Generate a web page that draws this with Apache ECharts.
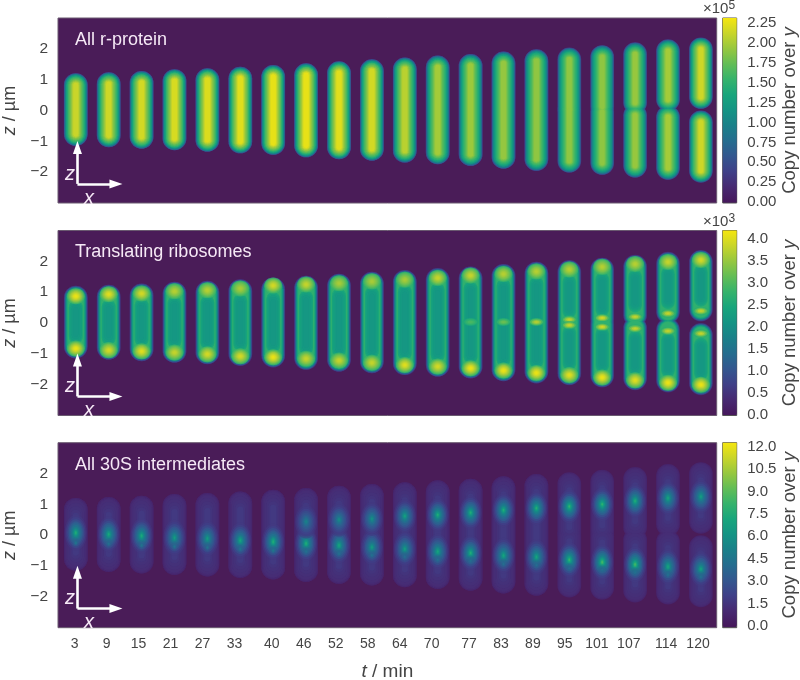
<!DOCTYPE html>
<html><head><meta charset="utf-8">
<style>html,body{margin:0;padding:0;background:#fff}#c{width:800px;height:680px}</style>
<script src="https://cdn.jsdelivr.net/npm/echarts@6/dist/echarts.min.js"></script>
</head><body><div id="c"></div>
<script>
const timeLabels = [3,9,15,21,27,33,40,46,52,58,64,70,77,83,89,95,101,107,114,120];
const zTicks = [-2,-1,0,1,2];
const rProteinTicks = ['0.00','0.25','0.50','0.75','1.00','1.25','1.50','1.75','2.00','2.25'];
const ribosomeTicks = ['0.0','0.5','1.0','1.5','2.0','2.5','3.0','3.5','4.0'];
const intermediateTicks = ['0.0','1.5','3.0','4.5','6.0','7.5','9.0','10.5','12.0'];

// cell outline per time point (um)
const cellTop = [1.21,1.24,1.28,1.34,1.37,1.42,1.476,1.53,1.60,1.66,1.72,1.78,1.83,1.91,1.985,2.04,2.12,2.21,2.31,2.37];
const cellBottom = [-1.15,-1.19,-1.24,-1.29,-1.34,-1.39,-1.44,-1.52,-1.58,-1.63,-1.69,-1.745,-1.80,-1.89,-1.96,-2.02,-2.09,-2.18,-2.25,-2.34];
// z at which the upper daughter ends / the lower daughter starts, from t = 95 on
const upperEnd = [-0.33,-0.27,-0.13,-0.03,0.05];
const lowerStart = [0.39,0.35,0.23,0.17,0];
const cellHalfWidth = 0.385;

// r-protein: axial peak per cell (x 1e5) and radial profile
const rProteinPeak = [2.12,2.14,2.16,2.18,2.2,2.22,2.25,2.25,2.22,2.16,2.06,1.98,1.95,1.92,1.9,1.9,1.9,1.93,1.98,2.14];
const rProteinProfile = [[0,.2],[.04,.3],[.08,.4],[.12,.48],[.17,.56],[.22,.62],[.28,.68],[.34,.73],[.4,.77],[.48,.82],[.56,.86],[.64,.91],[.72,.96],[.8,1]];

// translating ribosomes (x 1e3): rim, core and polar / septal hot spots
const ribosomeRim = [[0,.45],[.04,.75],[.08,1.1],[.12,1.45],[.16,1.8],[.2,2.1],[.25,2.4],[.3,2.6],[.36,2.72]];
const ribosomeCore = [[.42,.32,2.5],[.48,.34,2.38],[.56,.36,2.28],[.66,.38,2.2],[.8,.4,2.15]];
const poleTopZ = [.87,.93,.955,1.03,1.06,1.12,1.216,1.25,1.29,1.35,1.40,1.46,1.54,1.59,1.67,1.735,1.82,1.91,1.98,2.04];
const poleBottomZ = [-.83,-.88,-.915,-.96,-1.01,-1.08,-1.11,-1.16,-1.22,-1.29,-1.36,-1.41,-1.47,-1.54,-1.62,-1.69,-1.77,-1.855,-1.94,-2.0];
const poleTopPeak = [4.1,4.0,3.9,3.7,3.7,3.6,3.9,3.8,3.6,3.6,3.6,3.8,3.8,3.7,3.7,3.7,3.7,3.7,3.8,3.9];
const poleBottomPeak = [4.1,3.9,4.0,3.8,3.9,3.9,4.1,3.8,3.8,3.8,4.0,3.9,4.1,4.1,4.1,4.0,4.1,4.0,4.1,4.1];
const septumIndex = [12,13,14,15,15,16,16,17,17,18,18,19,19];
const septumZ = [.03,.03,.03,.11,-.07,.165,-.126,.2,-.18,.31,-.26,.39,-.34];
const septumPeak = [2.95,3.2,3.7,3.8,3.8,3.9,3.9,3.8,3.8,3.8,3.8,3.8,3.8];

// 30S intermediates: body levels and foci
const intermediateBody = [[0,0,.75],[.06,0,.9],[.12,0,1.05],[.2,0,1.15],[.3,.05,1.25],[.45,.1,1.35],[.6,.15,1.5],[.75,.2,1.7]];
const focusUpperIndex = [7,8,9,10,11,12,13,14,15,16,17,18,19];
const focusUpperZ = [.44,.5,.53,.62,.66,.73,.81,.875,.93,1.0,1.11,1.2,1.25];
const focusUpperPeak = [5.2,5.6,6,6.8,7.5,7.5,7.5,7.6,8,8,7.5,7,6.6];
const focusMainZ = [.08,.03,-.02,-.08,-.11,-.17,-.21,-.27,-.33,-.39,-.45,-.53,-.58,-.66,-.71,-.8,-.875,-.95,-1.02,-1.1];
const focusMainPeak = [7.5,7.2,7.3,6.5,6.5,7,7.5,7.5,7,6.5,6.5,7,7.5,7,7,8,8.5,8.5,7,6.8];
const focusSatelliteZ = [-.25,-.28,-.33,-.37,-.4,-.45,-.5,-.53,-.6,-.65,-.7,-.8,-.83,-.93,-.97,-1.07,-1.12,-1.2,-1.28,-1.35];
const focusSatellitePeak = [4.6,4.4,4.6,4.6,4.5,4.6,4.7,4.4,4.4,4.4,4.2,4.2,4.3,4.2,4.2,4.2,4.2,4.4,4.4,4.4];

const palette = ['#46185c','#472a72','#3f4088','#33578f','#256d8f','#1a8089','#149484','#18a57c','#35b36c','#62bd56','#96c73f','#c8d52a','#f5e60f'];
const colorAt = (v, max) => echarts.color.lerp(Math.max(0, Math.min(1, v / max)), palette);

const panels = [
  {top: 18,  max: 2.31, min: -0.01, ticks: rProteinTicks, title: 'All r-protein', exp: '5'},
  {top: 230.5, max: 4.19, min: -0.02, ticks: ribosomeTicks, title: 'Translating ribosomes', exp: '3'},
  {top: 442.7, max: 12.27, min: -0.13, ticks: intermediateTicks, title: 'All 30S intermediates', exp: null}
];
const H = 185, L = 58, W = 658.7, textColor = '#444';
const fontFamily = '"Liberation Sans", Arial, sans-serif';

function capsule(api, idx, zHi, zLo, inset, endExtra, color) {
  const c0 = api.coord([idx, zHi]), c1 = api.coord([idx, zLo]);
  const unit = api.size([1, 1])[1];
  const R = cellHalfWidth * unit, hw = R * (1 - inset), off = R * inset + endExtra * unit;
  const y0 = c0[1] + off, y1 = c1[1] - off;
  if (y1 - y0 <= 0) return null;
  return {type: 'rect', shape: {x: c0[0] - hw, y: y0, width: 2 * hw, height: y1 - y0, r: hw},
          style: {fill: color}};
}
const cellRows = (peak) => timeLabels.map((t, i) => {
  const d = i - 15;
  return [i, cellTop[i], cellBottom[i], d >= 0 ? upperEnd[d] : cellBottom[i], d >= 0 ? lowerStart[d] : cellTop[i], peak ? peak[i] : 0];
});
function levelsRender(levels, max) {
  return (params, api) => {
    const i = api.value(0), top = api.value(1), bot = api.value(2), ue = api.value(3), ls = api.value(4), peak = api.value(5);
    const children = [];
    levels.forEach(lv => {
      const value = peak ? lv[2] * peak : lv[2];
      [[top, ue], [ls, bot]].forEach(p => {
        const s = capsule(api, i, p[0], p[1], lv[0], lv[1], colorAt(value, max));
        if (s) children.push(s);
      });
    });
    return {type: 'group', children};
  };
}
function blobRender(scales, max, base) {
  return (params, api) => {
    const p = api.coord([api.value(0), api.value(1)]);
    const unit = api.size([1, 1])[1];
    const peak = api.value(2), rx = api.value(3) * unit, rz = api.value(4) * unit;
    return {type: 'group', children: scales.map(s => ({
      type: 'ellipse',
      shape: {cx: p[0], cy: p[1], rx: rx * s[0], ry: rz * s[0]},
      style: {fill: colorAt(base + (peak - base) * s[1], max), opacity: s[2]}
    }))};
  };
}
const customBase = (g) => ({type: 'custom', xAxisIndex: g, yAxisIndex: g, coordinateSystem: 'cartesian2d', animation: false, silent: true, clip: true});

const poleScales = [[1,.15,.8],[.88,.3,.9],[.76,.45,1],[.64,.6,1],[.52,.72,1],[.4,.84,1],[.28,.94,1],[.16,1,1]];
const septumScales = [[1,.2,.7],[.8,.45,1],[.6,.7,1],[.4,.9,1],[.2,1,1]];
const focusScales = [[1,.06,.5],[.88,.12,.7],[.76,.2,.9],[.64,.3,1],[.54,.38,1],[.44,.47,1],[.35,.56,1],[.27,.66,1],[.2,.76,1],[.13,.88,1],[.07,1,1]];
const satelliteScales = [[1,.1,.22],[.7,.4,.35],[.4,.8,.55],[.2,1,.8]];

const poleRows = [];
timeLabels.forEach((t, i) => {
  poleRows.push([i, poleTopZ[i], poleTopPeak[i], .29, .26]);
  poleRows.push([i, poleBottomZ[i], poleBottomPeak[i], .29, .26]);
});
const septumRows = septumIndex.map((x, k) => [x, septumZ[k], septumPeak[k], .26, .13]);
const satelliteRows = focusSatelliteZ.map((z, i) => [i, z, focusSatellitePeak[i], .14, .17]);
const focusRows = focusMainZ.map((z, i) => [i, z, focusMainPeak[i], .36, .58]);
focusUpperIndex.forEach((x, k) => focusRows.push([x, focusUpperZ[k], focusUpperPeak[k], .36, .55]));

const arrowSeries = (g) => ({
  type: 'line', xAxisIndex: g, yAxisIndex: g, data: [], silent: true, animation: false,
  markLine: {silent: true, animation: false, symbol: ['none', 'triangle'], symbolSize: [9, 13], label: {show: false},
    lineStyle: {color: '#fff', width: 2.6, type: 'solid'}, emphasis: {disabled: true},
    data: [
      [{coord: [.05, -2.38]}, {coord: [.05, -1.2]}],
      [{coord: [.05, -2.38]}, {coord: [1.22, -2.38]}]
    ]}
});

const grid = [], xAxis = [], yAxis = [], title = [], series = [];
const labelStyle = {color: '#f6e9f6', fontWeight: 'normal', fontFamily};
panels.forEach((p, g) => {
  grid.push({left: L, top: p.top, width: W, height: H, show: true, backgroundColor: '#4a1c58', borderColor: '#6a5a70', borderWidth: 1, outerBoundsMode: 'none'});
  xAxis.push({gridIndex: g, type: 'value', min: -0.541, max: 19.48, show: false});
  yAxis.push({gridIndex: g, type: 'value', min: -3, max: 3, interval: 1, position: 'left',
    axisLine: {show: false}, axisTick: {show: false}, splitLine: {show: false},
    axisLabel: {customValues: zTicks, color: textColor, fontSize: 15.5, fontFamily, margin: 10,
      formatter: v => String(v).replace('-', '\u2212')},
    name: '{i|z}{n| / \u00b5m}', nameLocation: 'middle', nameGap: 33, nameRotate: 90,
    nameTextStyle: {rich: {i: {fontStyle: 'italic', fontSize: 18, color: textColor, fontFamily},
                           n: {fontSize: 18, color: textColor, fontFamily}}}});
  title.push({text: p.title, left: 75, top: p.top + 13, padding: 0, textStyle: Object.assign({fontSize: 18}, labelStyle)});
  title.push({text: 'z', left: 65, top: p.top + 146, padding: 0, textStyle: Object.assign({fontSize: 20, fontStyle: 'italic'}, labelStyle)});
  title.push({text: 'x', left: 84, top: p.top + 170, padding: 0, textStyle: Object.assign({fontSize: 20, fontStyle: 'italic'}, labelStyle)});
  if (p.exp) title.push({text: '{a|\u00d710}{b|' + p.exp + '}', left: 703, top: p.top - 18, padding: 0,
    textStyle: {fontWeight: 'normal', rich: {a: {fontSize: 15, fontWeight: 'normal', color: textColor, fontFamily, lineHeight: 18},
                       b: {fontSize: 12, fontWeight: 'normal', color: textColor, fontFamily, verticalAlign: 'top', lineHeight: 18}}}});
});
// colour bars
panels.forEach((p, k) => {
  const g = k + 3;
  grid.push({left: 722.7, top: p.top, width: 14, height: H, show: true, backgroundColor: palette[0], borderColor: '#555', borderWidth: 1, outerBoundsMode: 'none'});
  xAxis.push({gridIndex: g, type: 'category', data: ['bar'], show: false});
  yAxis.push({gridIndex: g, type: 'value', min: p.min, max: p.max, position: 'right',
    axisLine: {show: false}, axisTick: {show: false}, splitLine: {show: false},
    axisLabel: {customValues: p.ticks.map(Number), color: textColor, fontSize: 15, fontFamily, margin: 10.5,
      formatter: v => p.ticks.find(s => Number(s) === v)},
    name: 'Copy number over {i|y}', nameLocation: 'middle', nameGap: 44, nameRotate: 90,
    nameTextStyle: {color: textColor, fontSize: 18.5, fontFamily,
      rich: {i: {fontStyle: 'italic', fontSize: 18.5, color: textColor, fontFamily}}}});
  series.push({type: 'bar', xAxisIndex: g, yAxisIndex: g, data: [p.max], barWidth: '100%', silent: true, animation: false,
    itemStyle: {color: {type: 'linear', x: 0, y: 1, x2: 0, y2: 0,
      colorStops: palette.map((c, i) => ({offset: i / (palette.length - 1), color: c}))}}});
});
// time axis shared under the bottom panel
xAxis.push({gridIndex: 2, type: 'value', min: -0.13, max: 123.5, position: 'bottom',
  axisLine: {show: false}, axisTick: {show: false}, splitLine: {show: false},
  axisLabel: {customValues: timeLabels, color: textColor, fontSize: 14, fontFamily, margin: 9},
  name: '{i|t}{n| / min}', nameLocation: 'middle', nameGap: 35,
  nameTextStyle: {rich: {i: {fontStyle: 'italic', fontSize: 19, color: textColor, fontFamily},
                         n: {fontSize: 19, color: textColor, fontFamily}}}});

const rLevels = rProteinProfile.map(l => [l[0], 0, l[1]]);
series.push(Object.assign(customBase(0), {data: cellRows(rProteinPeak), encode: {x: 0, y: [1, 2]}, renderItem: levelsRender(rLevels, panels[0].max)}));

const ribLevels = ribosomeRim.map(l => [l[0], 0, l[1]]);
series.push(Object.assign(customBase(1), {data: cellRows(null), encode: {x: 0, y: [1, 2]}, renderItem: levelsRender(ribLevels, panels[1].max)}));
series.push(Object.assign(customBase(1), {data: cellRows(null), encode: {x: 0, y: [1, 2]}, renderItem: levelsRender(ribosomeCore, panels[1].max)}));
series.push(Object.assign(customBase(1), {data: poleRows, encode: {x: 0, y: 1}, renderItem: blobRender(poleScales, panels[1].max, 2.7)}));
series.push(Object.assign(customBase(1), {data: septumRows, encode: {x: 0, y: 1}, renderItem: blobRender(septumScales, panels[1].max, 2.4)}));

series.push(Object.assign(customBase(2), {data: cellRows(null), encode: {x: 0, y: [1, 2]}, renderItem: levelsRender(intermediateBody, panels[2].max)}));
series.push(Object.assign(customBase(2), {data: focusRows, encode: {x: 0, y: 1}, renderItem: blobRender(focusScales, panels[2].max, 1.4)}));
series.push(Object.assign(customBase(2), {data: satelliteRows, encode: {x: 0, y: 1}, renderItem: blobRender(satelliteScales, panels[2].max, 3)}));

[0, 1, 2].forEach(g => series.push(arrowSeries(g)));

const chart = echarts.init(document.getElementById('c'), null, {renderer: 'canvas'});
chart.setOption({animation: false, backgroundColor: '#fff', grid, xAxis, yAxis, title, series, tooltip: {show: false}});
</script></body></html>
